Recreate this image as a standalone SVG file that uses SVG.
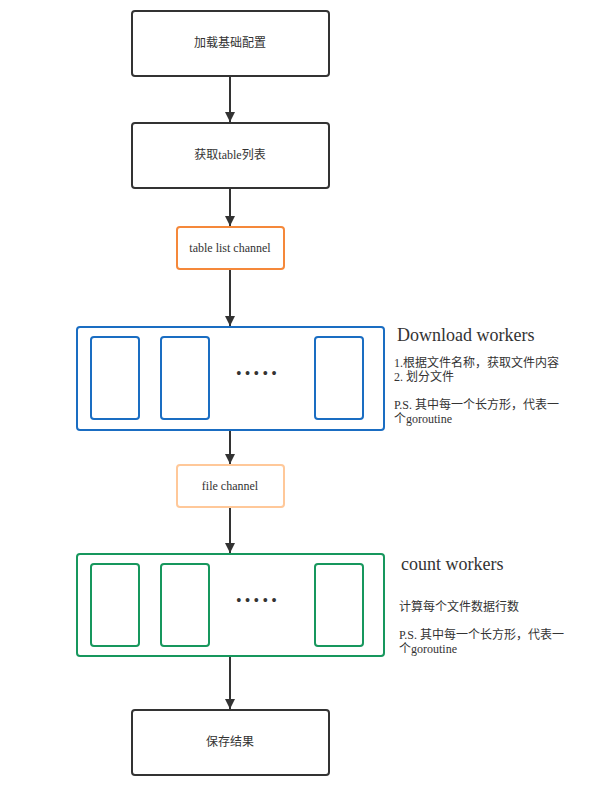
<svg xmlns="http://www.w3.org/2000/svg" width="597" height="796" viewBox="0 0 597 796">
<defs>
<marker id="ah" viewBox="0 0 10 10" refX="10" refY="5" markerWidth="10" markerHeight="14" markerUnits="userSpaceOnUse" orient="auto">
<path d="M0,0 L10,5 L0,10 Z" fill="#333"/>
</marker>
</defs>
<style>
text{font-family:'Liberation Serif','Times New Roman','Noto Sans CJK SC',serif;fill:#333;}
.lbl{font-size:12px;text-anchor:middle;}
.box{fill:#fff;stroke:#333;stroke-width:2;}
.conn{stroke:#333;stroke-width:2;fill:none;marker-end:url(#ah);}
.blue{fill:#fff;stroke:#1a6dc2;stroke-width:2;}
.green{fill:#fff;stroke:#17975d;stroke-width:2;}
.h{font-size:18px;}
.s{font-size:12px;}
.dots{font-size:16px;letter-spacing:3.2px;}
</style>
<rect width="597" height="796" fill="#fff"/>
<g id="connectors">
<line class="conn" x1="230" y1="76" x2="230" y2="122"/>
<line class="conn" x1="230" y1="188" x2="230" y2="226"/>
<line class="conn" x1="230" y1="269" x2="230" y2="326"/>
<line class="conn" x1="230" y1="430" x2="230" y2="464"/>
<line class="conn" x1="230" y1="507" x2="230" y2="553"/>
<line class="conn" x1="230" y1="656" x2="230" y2="709"/>
</g>
<g id="load">
<rect class="box" x="132" y="11" width="197" height="65" rx="3"/>
<text class="lbl" x="230" y="47">加载基础配置</text>
</g>
<g id="tables">
<rect class="box" x="132" y="123" width="197" height="65" rx="3"/>
<text class="lbl" x="230" y="159">获取table列表</text>
</g>
<g id="tablechan">
<rect x="177" y="227" width="107" height="42" rx="3" fill="#fff" stroke="#f5883a" stroke-width="2"/>
<text class="lbl" x="230" y="252">table list channel</text>
</g>
<g id="download">
<rect class="blue" x="77" y="327" width="307" height="103" rx="3"/>
<rect class="blue" x="91" y="337" width="48" height="82" rx="3"/>
<rect class="blue" x="161" y="337" width="48" height="82" rx="3"/>
<rect class="blue" x="315" y="337" width="48" height="82" rx="3"/>
<text class="dots" x="236" y="379">•••••</text>
</g>
<g id="download-note">
<text class="h" x="397" y="341">Download workers</text>
<text class="s" x="394" y="367">1.根据文件名称，获取文件内容</text>
<text class="s" x="394" y="381">2. 划分文件</text>
<text class="s" x="394" y="409">P.S. 其中每一个长方形，代表一</text>
<text class="s" x="394" y="423">个goroutine</text>
</g>
<g id="filechan">
<rect x="177" y="465" width="107" height="42" rx="3" fill="#fff" stroke="#ffc899" stroke-width="2"/>
<text class="lbl" x="230" y="490">file channel</text>
</g>
<g id="count">
<rect class="green" x="77" y="554" width="307" height="102" rx="3"/>
<rect class="green" x="91" y="564" width="48" height="82" rx="3"/>
<rect class="green" x="161" y="564" width="48" height="82" rx="3"/>
<rect class="green" x="315" y="564" width="48" height="82" rx="3"/>
<text class="dots" x="236" y="606">•••••</text>
</g>
<g id="count-note">
<text class="h" x="401" y="570">count workers</text>
<text class="s" x="399" y="611">计算每个文件数据行数</text>
<text class="s" x="399" y="639">P.S. 其中每一个长方形，代表一</text>
<text class="s" x="399" y="653">个goroutine</text>
</g>
<g id="save">
<rect class="box" x="132" y="710" width="197" height="65" rx="3"/>
<text class="lbl" x="230" y="746">保存结果</text>
</g>
</svg>
